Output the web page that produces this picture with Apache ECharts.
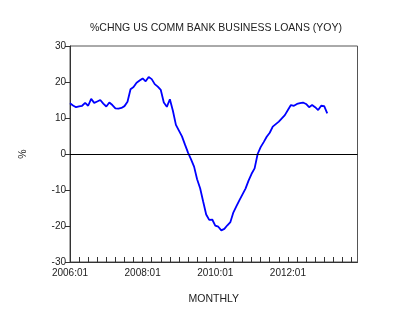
<!DOCTYPE html>
<html>
<head>
<meta charset="utf-8">
<script src="https://cdn.jsdelivr.net/npm/echarts@6/dist/echarts.min.js"></script>
<style>html,body{margin:0;padding:0;background:#fff}#c{width:399px;height:322px}</style>
</head>
<body>
<div id="c"></div>
<script>
var titleText = "%CHNG US COMM BANK BUSINESS LOANS (YOY)";
var xAxisTitle = "MONTHLY";
var yAxisTitle = "%";
var startYear = 2006, endYear = 2013;
var months = [];
for (var y = startYear; y <= endYear; y++) {
  for (var m = 1; m <= 12; m++) months.push(y + ":" + (m < 10 ? "0" + m : m));
}
var loansYoY = [
  14.1, 13.5, 13.0, 13.2, 13.4, 14.2, 13.4, 15.3, 14.2, 14.6, 15.0, 14.0,
  13.2, 14.3, 13.6, 12.7, 12.6, 12.8, 13.3, 14.5, 18.0, 18.6, 19.8, 20.4,
  21.0, 20.2, 21.4, 20.8, 19.4, 18.7, 17.8, 14.3, 13.1, 15.2, 12.0, 8.1,
  6.5, 4.9, 2.6, 0.4, -1.5, -3.5, -7.0, -9.5, -13.2, -16.8, -18.3, -18.2,
  -19.9, -20.2, -21.2, -20.8, -19.8, -18.9, -16.2, -14.5, -12.8, -11.2, -9.6, -7.4,
  -5.5, -4.0, 0.0, 1.9, 3.3, 4.8, 5.9, 7.6, 8.3, 9.0, 9.9, 10.8,
  12.2, 13.6, 13.4, 13.9, 14.1, 14.3, 13.9, 13.0, 13.6, 13.0, 12.2, 13.4,
  13.3, 11.3
];
var yMin = -30, yMax = 30, yStep = 10;

var chart = echarts.init(document.getElementById('c'), null, {renderer: 'canvas'});
var txt = '#222';
var font = 'Liberation Sans, Arial, sans-serif';
chart.setOption({
  animation: false,
  backgroundColor: '#fff',
  title: {
    text: titleText, left: 85, top: 18,
    textStyle: {fontFamily: font, fontSize: 10.5, fontWeight: 'normal', color: txt}
  },
  grid: {left: 70, right: 41.5, top: 46, bottom: 60, show: true, borderColor: '#555', borderWidth: 1, backgroundColor: 'transparent'},
  xAxis: {
    type: 'category', data: months, boundaryGap: false,
    name: xAxisTitle, nameLocation: 'middle', nameGap: 32,
    nameTextStyle: {fontFamily: font, fontSize: 10.5, color: txt},
    axisLine: {onZero: false, lineStyle: {color: '#333', width: 1}},
    axisTick: {inside: true, length: 5, interval: function (i) { return i % 3 === 0; }, lineStyle: {color: '#333'}},
    axisLabel: {interval: function (i) { return i % 24 === 0; }, fontFamily: font, fontSize: 10, color: txt, margin: 6},
    splitLine: {show: false}
  },
  yAxis: {
    type: 'value', min: yMin, max: yMax, interval: yStep,
    name: yAxisTitle, nameLocation: 'middle', nameGap: 41, nameRotate: 90,
    nameTextStyle: {fontFamily: font, fontSize: 10.5, color: txt},
    axisLine: {show: true, onZero: false, lineStyle: {color: '#333', width: 1}},
    axisTick: {show: true, inside: false, length: 5, lineStyle: {color: '#333'}},
    axisLabel: {fontFamily: font, fontSize: 10, color: txt, margin: 4},
    splitLine: {show: false}
  },
  series: [{
    type: 'line', data: loansYoY, showSymbol: false, symbol: 'none',
    lineStyle: {color: '#0000ff', width: 1.8},
    markLine: {
      silent: true, symbol: 'none', label: {show: false},
      lineStyle: {color: '#000', width: 1, type: 'solid'},
      data: [{yAxis: 0}]
    }
  }]
});
</script>
</body>
</html>
